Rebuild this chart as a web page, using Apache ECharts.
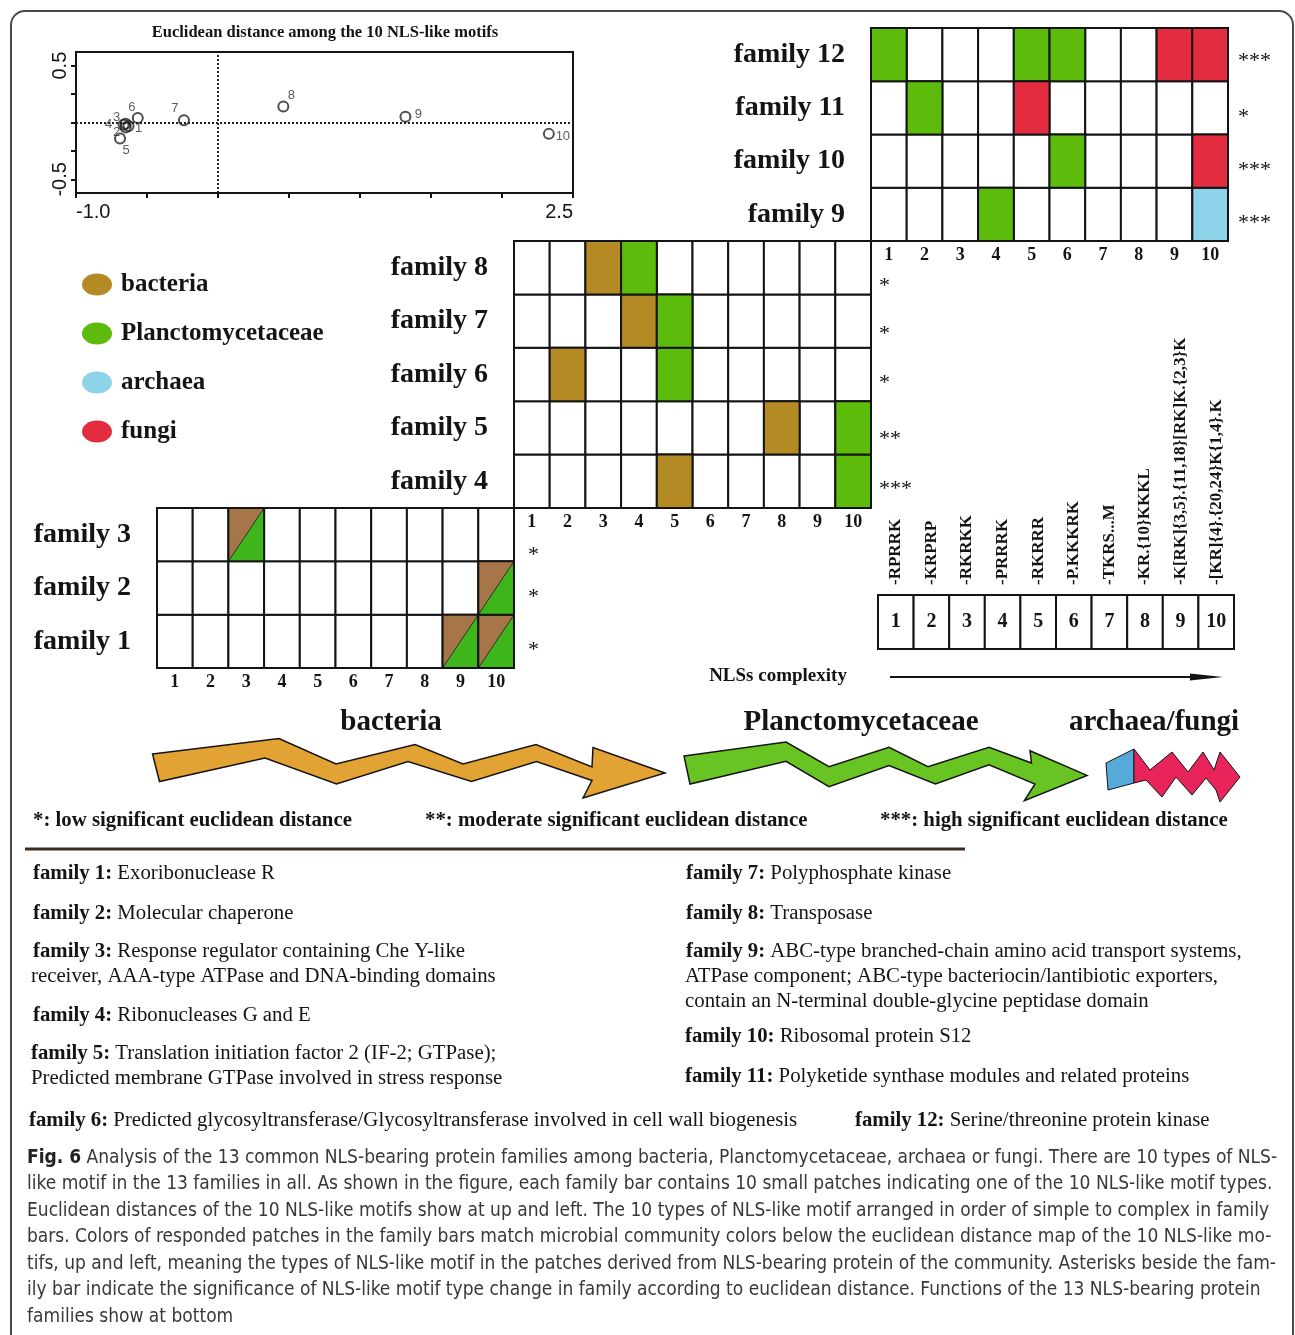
<!DOCTYPE html>
<html><head><meta charset="utf-8">
<script src="https://cdn.jsdelivr.net/npm/echarts@6/dist/echarts.min.js"></script>
<style>html,body{margin:0;padding:0;background:#fff}#main{width:1295px;height:1335px}</style>
</head><body><div id="main"></div>
<script>
// ================= DATA =================
const motifIds = ['1','2','3','4','5','6','7','8','9','10'];
const motifPatterns = ['-RPRRK','-KRPRP','-RKRKK','-PRRRK','-RKRRR','-P.KKKRK','-TKRS...M','-KR.{10}KKKL','-K[RK]{3,5}.{11,18}[RK]K.{2,3}K','-[KR]{4}.{20,24}K{1,4}.K'];
// Euclidean distance map coordinates of the 10 motifs
const motifX = [-0.63, -0.65, -0.65, -0.665, -0.69, -0.565, -0.24, 0.46, 1.32, 2.33];
const motifY = [-0.03, -0.045, -0.01, -0.02, -0.14, 0.04, 0.02, 0.14, 0.05, -0.10];
const scatterXLabels = [-1.0, 2.5];
const scatterYLabels = [-0.5, 0.5];
const scatterYTicks = [-0.5, -0.25, 0, 0.25, 0.5];

const upperFamilies = ['family 9', 'family 10', 'family 11', 'family 12'];
const middleFamilies = ['family 4', 'family 5', 'family 6', 'family 7', 'family 8'];
const lowerFamilies = ['family 1', 'family 2', 'family 3'];

// patch community per motif: B bacteria, P Planctomycetaceae, A archaea, F fungi, B/P both
const family1  = ['', '', '', '', '', '', '', '', 'B/P', 'B/P'];
const family2  = ['', '', '', '', '', '', '', '', '', 'B/P'];
const family3  = ['', '', 'B/P', '', '', '', '', '', '', ''];
const family4  = ['', '', '', '', 'B', '', '', '', '', 'P'];
const family5  = ['', '', '', '', '', '', '', 'B', '', 'P'];
const family6  = ['', 'B', '', '', 'P', '', '', '', '', ''];
const family7  = ['', '', '', 'B', 'P', '', '', '', '', ''];
const family8  = ['', '', 'B', 'P', '', '', '', '', '', ''];
const family9  = ['', '', '', 'P', '', '', '', '', '', 'A'];
const family10 = ['', '', '', '', '', 'P', '', '', '', 'F'];
const family11 = ['', 'P', '', '', 'F', '', '', '', '', ''];
const family12 = ['P', '', '', '', 'P', 'P', '', '', 'F', 'F'];

const upperStars  = ['***', '***', '*', '***'];
const middleStars = ['***', '**', '*', '*', '*'];
const lowerStars  = ['*', '*', '*'];

const communities = ['bacteria', 'Planctomycetaceae', 'archaea', 'fungi'];

const significanceNotes = ['*: low significant euclidean distance', '**: moderate significant euclidean distance', '***: high significant euclidean distance'];

const familyHeads = ['family 1:', 'family 2:', 'family 3:', '', 'family 4:', 'family 5:', '', 'family 6:',
                     'family 7:', 'family 8:', 'family 9:', '', '', 'family 10:', 'family 11:', 'family 12:'];
const familyFunctions = ['Exoribonuclease R', 'Molecular chaperone', 'Response regulator containing Che Y-like',
  'receiver, AAA-type ATPase and DNA-binding domains', 'Ribonucleases G and E',
  'Translation initiation factor 2 (IF-2; GTPase);', 'Predicted membrane GTPase involved in stress response',
  'Predicted glycosyltransferase/Glycosyltransferase involved in cell wall biogenesis',
  'Polyphosphate kinase', 'Transposase', 'ABC-type branched-chain amino acid transport systems,',
  'ATPase component; ABC-type bacteriocin/lantibiotic exporters,', 'contain an N-terminal double-glycine peptidase domain',
  'Ribosomal protein S12', 'Polyketide synthase modules and related proteins', 'Serine/threonine protein kinase'];

const captionLines = [
  'Analysis of the 13 common NLS-bearing protein families among bacteria, Planctomycetaceae, archaea or fungi. There are 10 types of NLS-',
  'like motif in the 13 families in all. As shown in the figure, each family bar contains 10 small patches indicating one of the 10 NLS-like motif types.',
  'Euclidean distances of the 10 NLS-like motifs show at up and left. The 10 types of NLS-like motif arranged in order of simple to complex in family',
  'bars. Colors of responded patches in the family bars match microbial community colors below the euclidean distance map of the 10 NLS-like mo-',
  'tifs, up and left, meaning the types of NLS-like motif in the patches derived from NLS-bearing protein of the community. Asterisks beside the fam-',
  'ily bar indicate the significance of NLS-like motif type change in family according to euclidean distance. Functions of the 13 NLS-bearing protein',
  'families show at bottom'
];

// ================= STYLE / LAYOUT =================
const SERIF = "'Liberation Serif','Times New Roman',serif";
const SANS = "'Liberation Sans',Arial,sans-serif";
const CAPF = "'Liberation Sans Narrow','Arial Narrow','DejaVu Sans Condensed',Lato,sans-serif";
const INK = '#141414';
const codeOrder = ['', 'B', 'P', 'A', 'F', 'B/P'];
const codeNames = {'': 'no motif', B: 'bacteria', P: 'Planctomycetaceae', A: 'archaea', F: 'fungi', 'B/P': 'bacteria & Planctomycetaceae'};
const codeColors = {'': '#ffffff', B: '#B48A25', P: '#5CBB0B', A: '#8ED3E9', F: '#E42C41', 'B/P': '#A67648'};
const SPLIT_GREEN = '#3DB51B';
const ELLIPSE = 'path://M0,11A15,11 0 1,1 30,11A15,11 0 1,1 0,11Z';
const labelOffsets = [[10, 3], [-9, 5], [-9, -6], [-15, 0], [6, 12], [-6, -11], [-9, -12], [8, -11], [13, -2], [14, 3]];
const descX = [33, 33, 33, 31, 33, 31, 31, 29, 686, 686, 686, 685, 685, 685, 685, 855];
const descY = [874, 914, 952, 977, 1016, 1054, 1079, 1121, 874, 914, 952, 977, 1002, 1037, 1077, 1121];
// vertical shift of each asterisk group below its row centre (bottom row first)
const upperStarShift = [9, 9, 9, 6.5];
const middleStarShift = [8, 11, 9, 13, 19];
const lowerStarShift = [9, 9, 21];

// ================= HELPERS =================
function cellBox(api) {
  const c = api.coord([api.value(0), api.value(1)]);
  const s = api.size([1, 1]);
  return {x: c[0] - s[0] / 2, y: c[1] - s[1] / 2, width: s[0], height: s[1]};
}
function renderCell(params, api) {
  return {type: 'rect', shape: cellBox(api), style: {fill: api.visual('color'), stroke: INK, lineWidth: 2}};
}
function renderSplit(params, api) {
  const b = cellBox(api);
  const x0 = b.x, y0 = b.y, x1 = b.x + b.width, y1 = b.y + b.height;
  return {type: 'group', children: [
    {type: 'polygon', shape: {points: [[x0, y0], [x1, y0], [x0, y1]]}, style: {fill: codeColors['B/P']}},
    {type: 'polygon', shape: {points: [[x1, y0], [x1, y1], [x0, y1]]}, style: {fill: SPLIT_GREEN}},
    {type: 'line', shape: {x1: x0, y1: y1, x2: x1, y2: y0}, style: {stroke: '#2a2a2a', lineWidth: 1}},
    {type: 'rect', shape: b, style: {fill: 'none', stroke: INK, lineWidth: 2}}
  ]};
}
function cellSeries(axisIdx, rows) {
  return codeOrder.map(code => {
    const data = [];
    rows.forEach((row, r) => row.forEach((c, m) => { if (c === code) data.push([m, r]); }));
    return {type: 'custom', name: codeNames[code], xAxisIndex: axisIdx, yAxisIndex: axisIdx,
      itemStyle: {color: codeColors[code]}, renderItem: code === 'B/P' ? renderSplit : renderCell,
      data: data, silent: true, z: code === '' ? 2 : 3};
  });
}
function catX(gridIndex) {
  return {gridIndex, type: 'category', data: motifIds, axisLine: {show: false}, axisTick: {show: false}, splitLine: {show: false},
    axisLabel: {interval: 0, fontFamily: SERIF, fontWeight: 'bold', fontSize: 18, color: INK, margin: 5}};
}
function catY(gridIndex, fams) {
  return {gridIndex, type: 'category', data: fams, axisLine: {show: false}, axisTick: {show: false}, splitLine: {show: false},
    axisLabel: {interval: 0, fontFamily: SERIF, fontWeight: 'bold', fontSize: 28, color: INK, margin: 26}};
}
function txt(text, x, y, font, opts) {
  opts = opts || {};
  const st = Object.assign({text: text, font: font, fill: opts.fill || INK,
    align: opts.align || 'left', textAlign: opts.align || 'left',
    verticalAlign: 'middle', textVerticalAlign: 'middle'}, opts.extra || {});
  return {type: 'text', x: x, y: y, silent: true, style: st};
}

// caption font size fitted to the column width
const mctx = document.createElement('canvas').getContext('2d');
mctx.font = '100px ' + CAPF;
const natural = captionLines.slice(1, 6).map(l => mctx.measureText(l).width);
const capSize = Math.max(15, Math.min(21, 100 * 1243 / (natural.reduce((a, b) => a + b, 0) / natural.length)));

// ================= OPTION =================
const scatterData = motifX.map((x, i) => ({
  value: [x, motifY[i]], name: motifIds[i],
  label: {show: true, position: 'inside', offset: labelOffsets[i], formatter: motifIds[i]}
}));

const graphics = [];
graphics.push({type: 'rect', shape: {x: 11, y: 11, width: 1282, height: 1345, r: 14}, style: {fill: 'none', stroke: '#4a4a4a', lineWidth: 2}, silent: true, z: -10});
graphics.push(txt('Euclidean distance among the 10 NLS-like motifs', 325, 33, 'bold 16.5px ' + SERIF, {align: 'center'}));
graphics.push(txt('NLSs complexity', 778, 676, 'bold 19px ' + SERIF, {align: 'center'}));
graphics.push({type: 'line', shape: {x1: 890, y1: 677, x2: 1200, y2: 677}, style: {stroke: INK, lineWidth: 2}, silent: true});
graphics.push({type: 'polygon', shape: {points: [[1190, 673.5], [1223, 677], [1190, 680.5]]}, style: {fill: INK}, silent: true});
// community arrows
graphics.push({type: 'polygon', silent: true, shape: {points: [[152.5,754],[279,738.6],[336,764],[415,744.6],[463,764],[536,744.6],[592,767],[593,747.5],[665,773],[583,798],[592,780.5],[536.5,761.5],[471.5,781.5],[408,761.5],[336.5,784],[265,758],[159.5,781.5]]}, style: {fill: '#E2A234', stroke: INK, lineWidth: 1.5}});
graphics.push({type: 'polygon', silent: true, shape: {points: [[684,756],[786,742],[829,766.6],[889,747.3],[928,766.6],[989,747.3],[1031.5,763],[1030,750.8],[1087,775.4],[1024.4,800.6],[1035,784],[989,764.8],[935.4,784],[889,765.5],[829,786.6],[786,761.3],[690,784]]}, style: {fill: '#68C423', stroke: INK, lineWidth: 1.5}});
graphics.push({type: 'polygon', silent: true, shape: {points: [[1106,763],[1134,749],[1134,783],[1108,790]]}, style: {fill: '#55AADA', stroke: INK, lineWidth: 1}});
graphics.push({type: 'polygon', silent: true, shape: {points: [[1134,749],[1150,770],[1172,752],[1188,772],[1203,752],[1214,770],[1220,752],[1240,777],[1220,802],[1216,790],[1206,778],[1192,795],[1176,777],[1162,797],[1146,780],[1134,783]]}, style: {fill: '#E8245A', stroke: INK, lineWidth: 1}});
graphics.push(txt('bacteria', 391, 723, 'bold 29px ' + SERIF, {align: 'center'}));
graphics.push(txt('Planctomycetaceae', 861, 723, 'bold 29px ' + SERIF, {align: 'center'}));
graphics.push(txt('archaea/fungi', 1154, 723, 'bold 29px ' + SERIF, {align: 'center'}));
const noteX = [33, 425, 880];
significanceNotes.forEach((t, i) => graphics.push(txt(t, noteX[i], 821, 'bold 20.8px ' + SERIF)));
graphics.push({type: 'line', shape: {x1: 25, y1: 849, x2: 965, y2: 849}, style: {stroke: '#3b2b22', lineWidth: 3}, silent: true});
familyFunctions.forEach((t, i) => {
  const head = familyHeads[i];
  const text = head ? '{b|' + head + '} ' + t : t;
  graphics.push(txt(text, descX[i], descY[i], '20.8px ' + SERIF, {extra: {rich: {b: {fontWeight: 'bold', fontSize: 20.8, fontFamily: SERIF}}}}));
});
captionLines.forEach((t, i) => {
  const text = i === 0 ? '{b|Fig. 6} ' + t : t;
  graphics.push(txt(text, 27, 1158 + i * 26.5, capSize.toFixed(2) + 'px ' + CAPF,
    {fill: '#383838', extra: {rich: {b: {fontWeight: 'bold', fontSize: capSize, fontFamily: CAPF, fill: '#222'}}}}));
});

const option = {
  animation: false,
  backgroundColor: '#ffffff',
  legend: {
    data: communities.map(n => ({name: n, icon: ELLIPSE})),
    orient: 'vertical', left: 77, top: 267, itemWidth: 30, itemHeight: 22, itemGap: 24, selectedMode: false,
    textStyle: {fontFamily: SERIF, fontWeight: 'bold', fontSize: 25, color: INK, padding: [0, 0, 0, 4]}
  },
  grid: [
    {left: 76, top: 52, width: 497, height: 141, show: true, borderColor: INK, borderWidth: 2},
    {left: 871, top: 28, width: 357, height: 213},
    {left: 514, top: 241, width: 357, height: 267},
    {left: 157, top: 508, width: 357, height: 160},
    {left: 878, top: 595, width: 356, height: 54}
  ],
  xAxis: [
    {gridIndex: 0, type: 'value', min: -1, max: 2.5, interval: 0.5,
      axisLine: {onZero: false, lineStyle: {color: INK, width: 2}}, axisTick: {length: 5, lineStyle: {color: INK, width: 2}},
      splitLine: {show: false},
      axisLabel: {formatter: v => scatterXLabels.indexOf(v) >= 0 ? v.toFixed(1) : '', fontFamily: SANS, fontSize: 20, color: INK, margin: 9,
        alignMinLabel: 'left', alignMaxLabel: 'right', showMinLabel: true, showMaxLabel: true}},
    catX(1), catX(2), catX(3),
    {gridIndex: 4, type: 'category', position: 'top', data: motifPatterns, axisLine: {show: false}, axisTick: {show: false},
      axisLabel: {interval: 0, rotate: -90, fontFamily: SERIF, fontWeight: 'bold', fontSize: 17, color: INK, margin: 10}}
  ],
  yAxis: [
    {gridIndex: 0, type: 'value', min: -0.62, max: 0.62,
      axisLine: {show: true, onZero: false, lineStyle: {color: INK, width: 2}},
      axisTick: {show: true, length: 5, customValues: scatterYTicks, lineStyle: {color: INK, width: 2}},
      splitLine: {show: false},
      axisLabel: {customValues: scatterYLabels, formatter: v => v.toFixed(1), rotate: 90, fontFamily: SANS, fontSize: 20, color: INK, margin: 6}},
    catY(1, upperFamilies),
    catY(2, middleFamilies),
    catY(3, lowerFamilies),
    {gridIndex: 4, type: 'category', data: ['NLS type'], show: false}
  ],
  series: [
    {type: 'scatter', name: 'NLS-like motifs', xAxisIndex: 0, yAxisIndex: 0, data: scatterData, symbol: 'circle', symbolSize: 10,
      itemStyle: {color: 'rgba(0,0,0,0)', borderColor: '#222', borderWidth: 2},
      label: {fontFamily: SANS, fontSize: 13, color: '#333'}, z: 5, silent: true,
      markLine: {silent: true, symbol: ['none', 'none'], label: {show: false},
        lineStyle: {type: 'dotted', color: '#222', width: 2}, data: [{xAxis: 0}, {yAxis: 0}]}},
    ...cellSeries(1, [family9, family10, family11, family12]),
    ...cellSeries(2, [family4, family5, family6, family7, family8]),
    ...cellSeries(3, [family1, family2, family3]),
    {type: 'custom', name: 'NLS type index', xAxisIndex: 4, yAxisIndex: 4, silent: true,
      data: motifIds.map((id, i) => [i, 0]),
      renderItem: (params, api) => {
        const b = cellBox(api);
        return {type: 'group', children: [
          {type: 'rect', shape: b, style: {fill: '#fff', stroke: INK, lineWidth: 2}},
          {type: 'text', x: b.x + b.width / 2, y: b.y + b.height / 2,
            style: {text: motifIds[params.dataIndex], font: 'bold 20px ' + SERIF, fill: INK, align: 'center', verticalAlign: 'middle'}}
        ]};
      }}
  ],
  graphic: {elements: graphics}
};

const chart = echarts.init(document.getElementById('main'), null, {renderer: 'canvas', width: 1295, height: 1335});
chart.setOption(option);

// significance asterisks placed beside each family bar through the grid axes
const starEls = [];
function addStars(axisIdx, stars, shifts, gap) {
  stars.forEach((s, r) => {
    const p9 = chart.convertToPixel({xAxisIndex: axisIdx, yAxisIndex: axisIdx}, [9, r]);
    const p8 = chart.convertToPixel({xAxisIndex: axisIdx, yAxisIndex: axisIdx}, [8, r]);
    const right = p9[0] + (p9[0] - p8[0]) / 2;
    starEls.push(txt(s, right + gap, p9[1] + shifts[r], '22px ' + SERIF));
  });
}
addStars(1, upperStars, upperStarShift, 10);
addStars(2, middleStars, middleStarShift, 8);
addStars(3, lowerStars, lowerStarShift, 14);
chart.setOption({graphic: {elements: graphics.concat(starEls)}});
</script>
</body></html>
